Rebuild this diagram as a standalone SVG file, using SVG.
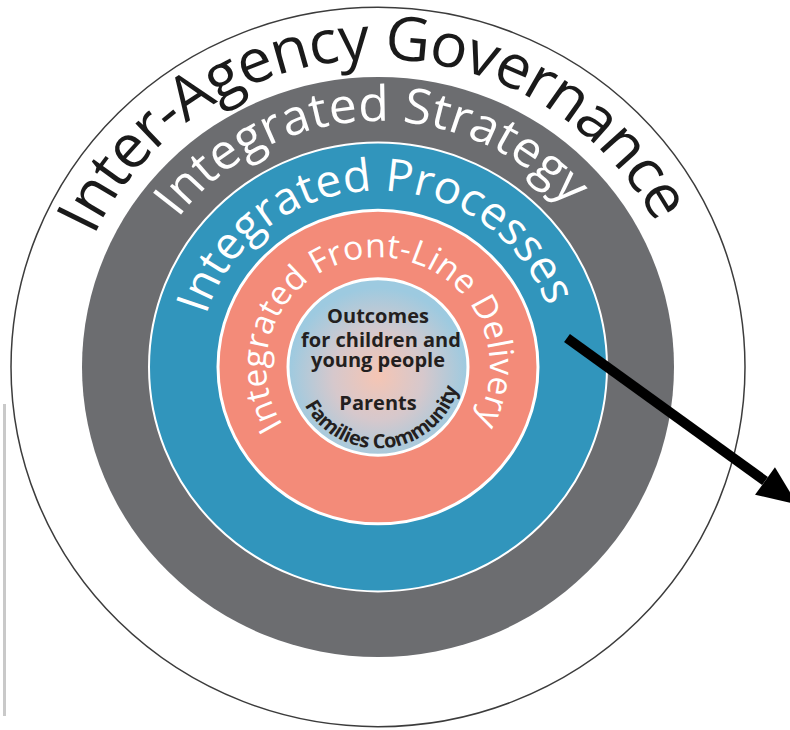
<svg xmlns="http://www.w3.org/2000/svg" width="790" height="730" viewBox="0 0 790 730">
<defs>
  <radialGradient id="coreGrad" cx="0.5" cy="0.55" r="0.5">
    <stop offset="0" stop-color="#f5c5b4"/>
    <stop offset="0.5" stop-color="#d6c8cc"/>
    <stop offset="1" stop-color="#9dcae0"/>
  </radialGradient>
  <path id="pGov" d="M0,314 A314,314 0 1 1 0,-314 A314,314 0 1 1 0,314"/>
  <path id="pStrat" d="M0,251 A251,251 0 1 1 0,-251 A251,251 0 1 1 0,251"/>
  <path id="pProc" d="M0,180 A180,180 0 1 1 0,-180 A180,180 0 1 1 0,180"/>
  <path id="pFront" d="M0,112 A112,112 0 1 1 0,-112 A112,112 0 1 1 0,112"/>
  <path id="pFam" d="M-83,0 A83,83 0 0 0 83,0"/>
  <marker id="arrowhead" markerUnits="userSpaceOnUse" markerWidth="40" markerHeight="34" refX="0" refY="17" orient="auto" overflow="visible">
    <path d="M0,0 L40,17 L0,34 Z" fill="#000"/>
  </marker>
</defs>
<style>
  .ring-label { font-family: "Open Sans", "Noto Sans", sans-serif; font-weight: 400; fill: #ffffff; }
  .gov-label { font-family: "Open Sans", "Noto Sans", sans-serif; font-weight: 400; fill: #1a1a1a; }
  .core-label { font-family: "Open Sans", "Noto Sans", sans-serif; font-weight: 700; fill: #231f20; text-anchor: middle; }
</style>
<rect x="0" y="0" width="790" height="730" fill="#ffffff"/>
<line x1="4.5" y1="404" x2="4.5" y2="716" stroke="#c9c9c9" stroke-width="3"/>

<g transform="translate(378,367) scale(1,0.98)">
  <g id="governance">
    <circle cx="0" cy="0" r="367" fill="#ffffff" stroke="#3c3c3c" stroke-width="1.5"/>
    <text class="gov-label" font-size="62" letter-spacing="-1.5"><textPath href="#pGov" startOffset="49.6%" text-anchor="middle">Inter-Agency Governance</textPath></text>
  </g>
  <g id="strategy">
    <circle cx="0" cy="0" r="296" fill="#6c6d70"/>
    <text class="ring-label" font-size="50"><textPath href="#pStrat" startOffset="49.5%" text-anchor="middle">Integrated Strategy</textPath></text>
  </g>
  <g id="processes">
    <circle cx="0" cy="0" r="229" fill="#3195bc" stroke="#ffffff" stroke-width="2"/>
    <text class="ring-label" font-size="46"><textPath href="#pProc" startOffset="49.6%" text-anchor="middle">Integrated Processes</textPath></text>
  </g>
  <g id="frontline">
    <circle cx="0" cy="0" r="160" fill="#f38b79" stroke="#ffffff" stroke-width="3"/>
    <text class="ring-label" font-size="34"><textPath href="#pFront" startOffset="49.7%" text-anchor="middle">Integrated Front-Line Delivery</textPath></text>
  </g>
  <g id="outcomes">
    <circle cx="0" cy="0" r="90" fill="url(#coreGrad)" stroke="#ffffff" stroke-width="3"/>
    <text class="core-label" font-size="20" x="0" y="-45">Outcomes</text>
    <text class="core-label" font-size="20" x="3" y="-20.5">for children and</text>
    <text class="core-label" font-size="20" x="0" y="0">young people</text>
    <text class="core-label" font-size="20" x="0" y="44">Parents</text>
    <text class="core-label" font-size="20" letter-spacing="-0.4"><textPath href="#pFam" startOffset="53.5%" text-anchor="middle">Families Community</textPath></text>
  </g>
</g>

<g id="connectors">
  <line x1="567" y1="338" x2="765" y2="481" stroke="#000000" stroke-width="10" marker-end="url(#arrowhead)"/>
</g>
</svg>
